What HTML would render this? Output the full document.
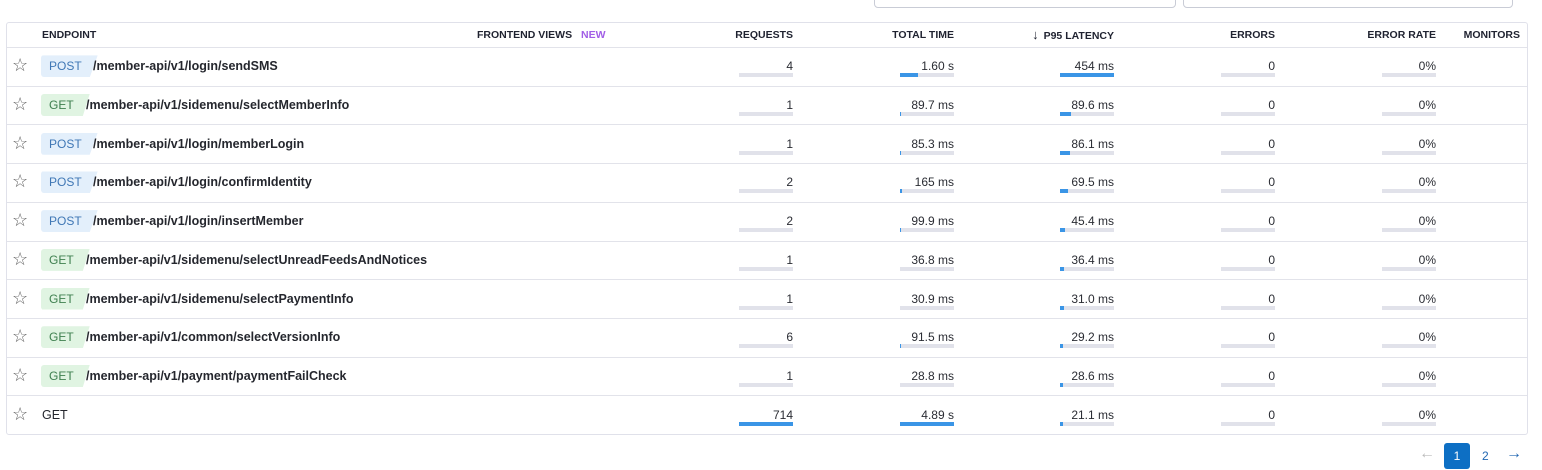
<!DOCTYPE html>
<html><head><meta charset="utf-8">
<style>
body{margin:0;width:1542px;height:470px;background:#fff;font-family:"Liberation Sans",sans-serif;position:relative;overflow:hidden;color:#28292e}
.abs{position:absolute}
.tbl{left:6px;top:22px;width:1520px;height:411px;border:1px solid #e0e1ea;border-radius:3px}
.hdr{font-size:10.5px;font-weight:bold;color:#1f2230;top:29px;line-height:12px}
.row{left:7px;width:1520px;height:38.7px;border-top:1px solid #e2e3ea}
.num{font-size:12px;color:#2a2c33;text-align:right;width:120px}
.bar{height:4px;width:54px;background:#e1e2ea}
.fill{height:4px;background:#3a95e6}
.badge{font-size:12px;height:22px;line-height:22px;padding:0 16px 0 8px;clip-path:polygon(0 0,100% 0,86% 100%,0 100%);border-radius:3px 0 0 3px}
.post{background:#e3effb;color:#3f77b5}
.get{background:#e0f4e2;color:#3f8050}
.path{font-size:12.5px;color:#25272e}
.star{font-size:18px;color:#666;left:12px}
</style></head><body>
<div class="abs" style="left:874px;top:-20px;width:300px;height:26px;border:1px solid #c9ccd6;border-radius:4px"></div>
<div class="abs" style="left:1183px;top:-20px;width:328px;height:26px;border:1px solid #c9ccd6;border-radius:4px"></div>
<div class="abs tbl"></div>
<div class="abs hdr" style="left:42px">ENDPOINT</div>
<div class="abs hdr" style="left:477px">FRONTEND VIEWS <span style="color:#a15ee6;margin-left:6px">NEW</span></div>
<div class="abs hdr" style="left:673px;width:120px;text-align:right">REQUESTS</div>
<div class="abs hdr" style="left:834px;width:120px;text-align:right">TOTAL TIME</div>
<div class="abs hdr" style="left:994px;width:120px;text-align:right"><span style="font-size:13px;font-weight:normal;margin-right:5px;line-height:12px">↓</span>P95 LATENCY</div>
<div class="abs hdr" style="left:1155px;width:120px;text-align:right">ERRORS</div>
<div class="abs hdr" style="left:1316px;width:120px;text-align:right">ERROR RATE</div>
<div class="abs hdr" style="left:1400px;width:120px;text-align:right">MONITORS</div>
<div id="rows"></div>
<div class="abs" style="left:1419px;top:445px;font-size:16px;color:#bbb">←</div>
<div class="abs" style="left:1444px;top:443px;width:26px;height:26px;background:#0d6fc4;color:#fff;border-radius:3px;text-align:center;line-height:26px;font-size:12px">1</div>
<div class="abs" style="left:1482px;top:449px;font-size:12px;color:#2368b3">2</div>
<div class="abs" style="left:1506px;top:445px;font-size:16px;color:#2368b3">→</div>
<script>
const methods=["POST","GET","POST","POST","POST","GET","GET","GET","GET",""];
const paths=["/member-api/v1/login/sendSMS","/member-api/v1/sidemenu/selectMemberInfo","/member-api/v1/login/memberLogin","/member-api/v1/login/confirmIdentity","/member-api/v1/login/insertMember","/member-api/v1/sidemenu/selectUnreadFeedsAndNotices","/member-api/v1/sidemenu/selectPaymentInfo","/member-api/v1/common/selectVersionInfo","/member-api/v1/payment/paymentFailCheck","GET"];
const requests=[4,1,1,2,2,1,1,6,1,714];
const totalMs=[1600,89.7,85.3,165,99.9,36.8,30.9,91.5,28.8,4890];
const totalLabels=["1.60 s","89.7 ms","85.3 ms","165 ms","99.9 ms","36.8 ms","30.9 ms","91.5 ms","28.8 ms","4.89 s"];
const p95=[454,89.6,86.1,69.5,45.4,36.4,31.0,29.2,28.6,21.1];
const p95Labels=["454 ms","89.6 ms","86.1 ms","69.5 ms","45.4 ms","36.4 ms","31.0 ms","29.2 ms","28.6 ms","21.1 ms"];
const errors=[0,0,0,0,0,0,0,0,0,0];
const errorRate=[0,0,0,0,0,0,0,0,0,0];
const host=document.getElementById('rows');
const maxR=Math.max(...requests),maxT=Math.max(...totalMs),maxP=Math.max(...p95);
const rowH=38.7;
function mk(cls,style,html){const d=document.createElement('div');d.className='abs '+cls;d.setAttribute('style',style);if(html!==undefined)d.innerHTML=html;host.appendChild(d);return d;}
function metric(x,cy,label,frac,name){
  const t=mk('num',`left:${x-120}px;top:${cy-7}px`,label);
  
  
  const b=mk('bar',`left:${x-54}px;top:${cy+7}px`);
  
  
  const f=document.createElement('div');f.className='fill';f.style.width=Math.round(54*frac)+'px';
  
  
  b.appendChild(f);
}
for(let i=0;i<paths.length;i++){
  const top=47+i*rowH,cy=top+rowH/2;
  const r=mk('row',`top:${top}px`);
  
  
  const s=mk('star',`top:${cy-11}px`,'☆');
  
  
  let px=42;
  if(methods[i]){
    const bd=mk('badge '+(methods[i]=="GET"?'get':'post'),`left:41px;top:${cy-11}px`,methods[i]);
    
    
    px=methods[i]=="GET"?86:93;
  }
  const p=mk('path',`left:${px}px;top:${cy-7}px;${methods[i]?'font-weight:bold':''}`,paths[i]);
  
  
  metric(793,cy,String(requests[i]),requests[i]/maxR,'requests');
  metric(954,cy,totalLabels[i],totalMs[i]/maxT,'total-time');
  metric(1114,cy,p95Labels[i],p95[i]/maxP,'p95-latency');
  metric(1275,cy,String(errors[i]),0,'errors');
  metric(1436,cy,errorRate[i]+'%',errorRate[i]/100,'error-rate');
}
</script>
</body></html>
